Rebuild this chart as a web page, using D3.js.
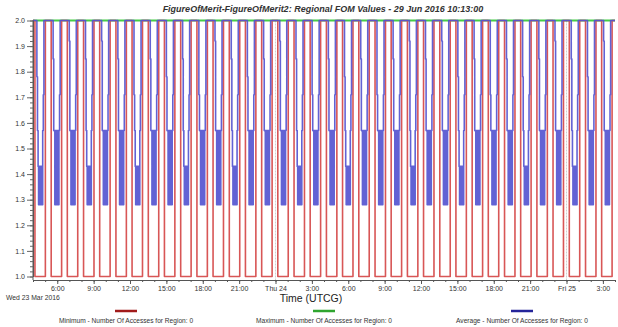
<!DOCTYPE html>
<html><head><meta charset="utf-8">
<script src="https://cdn.jsdelivr.net/npm/d3@7"></script>
<style>
body{margin:0;background:#fff}
svg{display:block}
text{font-family:"Liberation Sans",Arial,sans-serif}
</style>
</head><body>
<svg id="c" width="618" height="327"></svg>
<script>
// ---------- data ----------
const titleText = "FigureOfMerit-FigureOfMerit2:  Regional FOM Values - 29 Jun 2016 10:13:00";
const startTime = "2016-03-23T04:00:00Z";
const endTime = "2016-03-25T04:00:00Z";
const firstDayLabel = "Wed 23 Mar 2016";
const axisTitle = "Time (UTCG)";
const yTickValues = [1.0,1.1,1.2,1.3,1.4,1.5,1.6,1.7,1.8,1.9,2.0];
const dayLines = ["2016-03-24T00:00:00Z","2016-03-25T00:00:00Z"];
const seriesNames = [
  "Minimum - Number Of Accesses for Region: 0",
  "Maximum - Number Of Accesses for Region: 0",
  "Average - Number Of Accesses for Region: 0"
];
// hours after start when the minimum drops to 1 and rises back to 2
const minDropHours = [0.16,1.50,2.83,4.17,5.50,6.84,8.17,9.51,10.84,12.18,13.52,14.85,16.19,17.52,18.86,20.19,21.53,22.86,24.20,25.53,26.87,28.21,29.54,30.88,32.21,33.55,34.88,36.22,37.55,38.89,40.22,41.56,42.89,44.23,45.57,46.90];
const minRiseHours = [1.02,2.36,3.69,5.03,6.36,7.70,9.03,10.37,11.70,13.04,14.38,15.71,17.05,18.38,19.72,21.05,22.39,23.72,25.06,26.39,27.73,29.07,30.40,31.74,33.07,34.41,35.74,37.08,38.41,39.75,41.08,42.42,43.75,45.09,46.43,47.76];
const minLow = 1.0, minHigh = 2.0;
// maximum series
const maxHours = [0, 48];
const maxValues = [2.0, 2.0];
// average series: levels reached in each dip
const avgEntry  = [1.78,1.85,1.92,1.85,1.92,1.85,1.71,1.85,1.78,1.85,1.71,1.92,1.85,1.78,1.85,1.92,1.85,1.71,1.85,1.78,1.85,1.71,1.85,1.92,1.85,1.92,1.78,1.85,1.71,1.85,1.78,1.85,1.92,1.85,1.78,1.92];
const avgMid    = [1.57,1.57,1.57,1.57,1.57,1.57,1.57,1.57,1.57,1.57,1.57,1.57,1.57,1.57,1.57,1.57,1.57,1.57,1.57,1.57,1.57,1.57,1.57,1.57,1.57,1.57,1.57,1.57,1.57,1.57,1.57,1.57,1.57,1.57,1.57,1.57];
const avgBarTop = [1.43,1.57,1.57,1.43,1.57,1.57,1.43,1.57,1.57,1.43,1.57,1.57,1.43,1.57,1.57,1.57,1.43,1.57,1.57,1.43,1.57,1.57,1.57,1.43,1.57,1.57,1.43,1.57,1.57,1.57,1.43,1.57,1.57,1.43,1.57,1.57];
const avgLow    = [1.28,1.28,1.28,1.28,1.28,1.28,1.28,1.28,1.28,1.28,1.28,1.28,1.28,1.28,1.28,1.28,1.28,1.28,1.28,1.28,1.28,1.28,1.28,1.28,1.28,1.28,1.28,1.28,1.28,1.28,1.28,1.28,1.28,1.28,1.28,1.28];
const avgExit   = [1.71,1.71,1.71,1.71,1.71,1.71,1.71,1.71,1.71,1.71,1.71,1.71,1.71,1.71,1.71,1.71,1.71,1.71,1.71,1.71,1.71,1.71,1.71,1.71,1.71,1.71,1.71,1.71,1.71,1.71,1.71,1.71,1.71,1.71,1.71,1.71];
// timing of the average's steps inside a dip (hours after the minimum drops)
const avgDipShape = [
  [0.16,"entry"],[0.21,"mid"],[0.26,"top"],[0.30,"low"],[0.35,"top"],[0.40,"low"],
  [0.45,"top"],[0.50,"low"],[0.55,"top"],[0.60,"low"],[0.64,"mid"],[0.69,"exit"],[0.74,"max"]
];

// ---------- chart ----------
const svg = d3.select("#c");
const defs = svg.append("defs");
defs.append("filter").attr("id","soft").attr("x","-5%").attr("y","-5%").attr("width","110%").attr("height","110%")
  .append("feGaussianBlur").attr("stdDeviation",0.55);

const t0 = new Date(startTime), t1 = new Date(endTime);
const hr = h => new Date(t0.getTime() + h*3600e3);
const x = d3.scaleUtc().domain([t0,t1]).range([33,615]);
const y = d3.scaleLinear().domain([1,2]).range([276.5,20.5]);

const colors = {min:"#d85656", max:"#47cc47", avg:"#5252cf"};
const legendColors = ["#a11b1b","#2fa52f","#25259a"];

// day separators
svg.selectAll("line.day").data(dayLines).join("line")
  .attr("x1",d=>x(new Date(d))).attr("x2",d=>x(new Date(d)))
  .attr("y1",y(2)).attr("y2",280)
  .attr("stroke","#cfcfcf").attr("stroke-width",1).attr("stroke-dasharray","2,1");

const line = d3.line().x(d=>x(d[0])).y(d=>y(d[1])).curve(d3.curveStepAfter);

const maxPts = maxHours.map((h,i)=>[hr(h),maxValues[i]]);
const minPts = [[hr(0),minHigh]];
minDropHours.forEach((h,i)=>{ minPts.push([hr(h),minLow]); minPts.push([hr(minRiseHours[i]),minHigh]); });
minPts.push([hr(48),minHigh]);
const avgPts = [[hr(0),2.0]];
minDropHours.forEach((h,i)=>{
  const lv = {entry:avgEntry[i], mid:avgMid[i], top:avgBarTop[i], low:avgLow[i], exit:avgExit[i], max:2.0};
  avgDipShape.forEach(([o,k])=>avgPts.push([hr(h+o), lv[k]]));
});
avgPts.push([hr(48),2.0]);

const gLines = svg.append("g").attr("filter","url(#soft)");
gLines.append("path").attr("d",line(maxPts)).attr("fill","none")
  .attr("stroke",colors.max).attr("stroke-width",2.2);
gLines.append("path").attr("d",line(minPts)).attr("fill","none")
  .attr("stroke",colors.min).attr("stroke-width",1.6).attr("stroke-linejoin","round");
gLines.append("path").attr("d",line(avgPts)).attr("fill","none")
  .attr("stroke",colors.avg).attr("stroke-width",1.6).attr("stroke-linejoin","round").attr("stroke-opacity",0.9);

// axes
const gx = svg.append("g").attr("transform","translate(0,280)");
gx.call(d3.axisBottom(x).ticks(d3.utcHour.every(1)).tickFormat("").tickSize(2).tickSizeOuter(0));
gx.append("g").call(d3.axisBottom(x).ticks(d3.utcHour.every(3))
   .tickFormat(d=> d.getUTCHours()===0 ? d3.utcFormat("%a %-d")(d) : d3.utcFormat("%-H:%M")(d))
   .tickSize(4).tickPadding(2).tickSizeOuter(0));
gx.selectAll("text").attr("font-size",7).attr("fill","#333");
gx.selectAll("path.domain").attr("stroke","#555");
gx.selectAll("line").attr("stroke","#555");

const gy = svg.append("g").attr("transform","translate(33,0)");
gy.call(d3.axisLeft(y).ticks(50).tickFormat("").tickSize(3).tickSizeOuter(0));
gy.append("g").call(d3.axisLeft(y).tickValues(yTickValues).tickFormat(d3.format(".1f")).tickSize(6).tickPadding(2).tickSizeOuter(0));
gy.select("path.domain").attr("d","M0,20V280");
gy.selectAll("text").attr("font-size",7).attr("fill","#333");
gy.selectAll("path.domain").attr("stroke","#555");
gy.selectAll("line").attr("stroke","#666");

// texts
svg.append("text").attr("x",323).attr("y",12).attr("text-anchor","middle")
  .attr("font-size",9).attr("font-style","italic").attr("font-weight","bold").attr("fill","#333").text(titleText);
svg.append("text").attr("x",6).attr("y",300).attr("font-size",6.8).attr("fill","#333").text(firstDayLabel);
svg.append("text").attr("x",311).attr("y",302).attr("text-anchor","middle").attr("font-size",10.5).attr("fill","#222").text(axisTitle);

// legend
const legX = [126,324,522];
seriesNames.forEach((n,i)=>{
  svg.append("line").attr("x1",legX[i]-11).attr("x2",legX[i]+11).attr("y1",311).attr("y2",311)
    .attr("stroke",legendColors[i]).attr("stroke-width",2.5);
  svg.append("text").attr("x",legX[i]).attr("y",323).attr("text-anchor","middle")
    .attr("font-size",6.6).attr("fill","#333").text(n);
});
</script>
</body></html>
